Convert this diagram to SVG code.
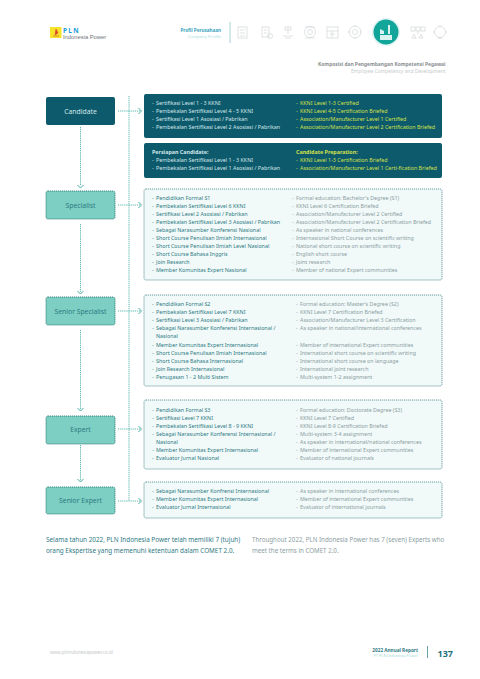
<svg xmlns="http://www.w3.org/2000/svg" width="480" height="679" viewBox="0 0 480 679">
<style>
text{font-family:"Noto Sans","Open Sans","Liberation Sans",sans-serif}
.id{font-size:5.35px;fill:#2f7a83}
.en{font-size:5.35px;fill:#8b9ea2}
.wh{font-size:5.35px;fill:#d3e6e9}
.ye{font-size:5.35px;fill:#d2e04a}
.b{font-weight:700}
.nd{fill:#7ccfc2;stroke:#1f6f6c;stroke-width:.8;stroke-dasharray:1.2 .8}
.dk{fill:#0d5a6c}
.pn{fill:#f1f9f9;stroke:#2f757c;stroke-width:.7;stroke-dasharray:1.2 .8}
.lb{font-size:6.8px;text-anchor:middle}
.cn{fill:none;stroke:#2fa596;stroke-width:.8;stroke-dasharray:1.2 .9}
.ah{fill:none;stroke:#2fa596;stroke-width:.9}
.ic{fill:none;stroke:#d2d6d8;stroke-width:.7}
</style>

<g id="header">
<rect x="50" y="27" width="11.500" height="11" fill="#f6e32a"/>
<path d="M53 36h6M56 29l-1 6 3-2z" fill="#d8452a" stroke="#d8452a" stroke-width=".6"/>
<text x="63" y="32.500" font-size="6.500" font-weight="700" fill="#1b9bd8" letter-spacing="1.300">PLN</text>
<text x="63" y="38.500" font-size="5.800" fill="#6f7478" style="font-family:'Liberation Sans',sans-serif">Indonesia Power</text>
<text x="221" y="32" font-size="4.600" font-weight="700" fill="#3ba5c0" text-anchor="end">Profil Perusahaan</text>
<text x="221" y="38" font-size="4.300" fill="#a9dbe0" text-anchor="end">Company Profile</text>
<rect x="229.500" y="22" width="1" height="21" fill="#a8d2d6"/>
</g>

<g id="nav-icons">
<rect class="ic" x="238" y="27" width="9" height="11"/><path class="ic" d="M240 30h5M240 33h5M240 36h5"/>
<rect class="ic" x="262" y="27" width="7" height="10"/><circle class="ic" cx="270" cy="36" r="2.500"/><path class="ic" d="M264 30h3M264 33h3"/>
<path class="ic" d="M288 27v7M285 27h6v3h-6zM283 36h10M285 38h6"/>
<circle class="ic" cx="310" cy="32" r="5.500"/><circle class="ic" cx="310" cy="32" r="2.500"/><path class="ic" d="M305 27h10M305 38h10"/>
<rect class="ic" x="327" y="27" width="11" height="11"/><path class="ic" d="M327 31h11M332 31v7M330 34h5"/>
<circle class="ic" cx="355" cy="32" r="6"/><circle class="ic" cx="355" cy="32" r="2.500"/><path class="ic" d="M355 25v2M355 37v2M348 32h2M360 32h2"/>
<circle cx="386" cy="32" r="14" fill="#e2f5f3"/><circle cx="386" cy="32" r="12.500" fill="#12a59a"/>
<path d="M380 40h12v-5h-12zM380 34v-5l4 2v3zM388 34v-9h2v9z" fill="#d9f2ef"/>
<rect class="ic" x="411" y="27" width="4" height="4"/><rect class="ic" x="416" y="27" width="4" height="4"/><rect class="ic" x="421" y="27" width="4" height="4"/>
<path class="ic" d="M412 38l2-4 2 4zM419 38l2-4 2 4zM418 31v3"/>
<circle class="ic" cx="440" cy="32" r="5.500"/><path class="ic" d="M440 25v2M440 37v2M433 32h2M445 32h2M438 38h4"/>
</g>

<g id="title">
<text x="445.500" y="65.500" font-size="4.900" font-weight="700" fill="#8a8f92" text-anchor="end">Komposisi dan Pengembangan Kompetensi Pegawai</text>
<text x="445.500" y="72.500" font-size="4.900" fill="#c6cbcd" text-anchor="end">Employee Competency and Development</text>
</g>

<g id="connectors">
<path class="cn" d="M129 96V501"/>
<path class="cn" d="M80.500 127V186M80.500 224V292M80.500 330V410M80.500 445V481"/>
<path class="cn" d="M118 111H140M118 205H140M118 311H140M118 429H140M118 501H140"/>
<g class="ah">
<path d="M138.500 108l3 3-3 3M138.500 202l3 3-3 3M138.500 308l3 3-3 3M138.500 426l3 3-3 3M138.500 498l3 3-3 3"/>
<path d="M77.500 185l3 3 3-3M77.500 291l3 3 3-3M77.500 408l3 3 3-3M77.500 479l3 3 3-3"/>
</g>
</g>

<g id="candidate"><rect class="dk" x="46" y="97" width="69" height="28" rx="2"/><text class="lb" x="80.500" y="113.500" fill="#d3e6e9">Candidate</text></g>
<g id="specialist"><rect class="nd" x="46" y="191" width="69" height="28" rx="2"/><text class="lb" x="80.500" y="207.500" fill="#2f7a83">Specialist</text></g>
<g id="senior-specialist"><rect class="nd" x="46" y="297" width="69" height="28" rx="2"/><text class="lb" x="80.500" y="313.500" fill="#2f7a83">Senior Specialist</text></g>
<g id="expert"><rect class="nd" x="46" y="416" width="69" height="28" rx="2"/><text class="lb" x="80.500" y="432" fill="#2f7a83">Expert</text></g>
<g id="senior-expert"><rect class="nd" x="46" y="487" width="69" height="27" rx="2"/><text class="lb" x="80.500" y="503" fill="#2f7a83">Senior Expert</text></g>

<g id="candidate-panel">
<rect class="dk" x="144" y="94" width="298" height="44" rx="2"/>
<text class="wh" x="152" y="105">-<tspan x="156">Sertifikasi Level 1 - 3 KKNI</tspan></text>
<text class="wh" x="152" y="113">-<tspan x="156">Pembekalan Sertifikasi Level 4 - 5 KKNI</tspan></text>
<text class="wh" x="152" y="121">-<tspan x="156">Sertifikasi Level 1 Asosiasi / Pabrikan</tspan></text>
<text class="wh" x="152" y="129">-<tspan x="156">Pembekalan Sertifikasi Level 2 Asosiasi / Pabrikan</tspan></text>
<text class="ye" x="296" y="105">-<tspan x="300">KKNI Level 1-3 Certified</tspan></text>
<text class="ye" x="296" y="113">-<tspan x="300">KKNI Level 4-5 Certification Briefed</tspan></text>
<text class="ye" x="296" y="121">-<tspan x="300">Association/Manufacturer Level 1 Certified</tspan></text>
<text class="ye" x="296" y="129">-<tspan x="300">Association/Manufacturer Level 2 Certification Briefed</tspan></text>
</g>

<g id="preparation-panel">
<rect class="dk" x="144" y="143" width="298" height="35" rx="2"/>
<text class="wh b" x="152" y="154">Persiapan Candidate:</text>
<text class="wh" x="152" y="162">-<tspan x="156">Pembekalan Sertifikasi Level 1 - 3 KKNI</tspan></text>
<text class="wh" x="152" y="170">-<tspan x="156">Pembekalan Sertifikasi Level 1 Asosiasi / Pabrikan</tspan></text>
<text class="ye b" x="296" y="154">Candidate Preparation:</text>
<text class="ye" x="296" y="162">-<tspan x="300">KKNI Level 1-3 Certification Briefed</tspan></text>
<text class="ye" x="296" y="170">-<tspan x="300">Association/Manufacturer Level 1 Certi-fication Briefed</tspan></text>
</g>

<g id="specialist-panel">
<rect class="pn" x="144" y="189" width="298" height="91" rx="2"/>
<text class="id" x="152" y="200">-<tspan x="156">Pendidikan Formal S1</tspan></text>
<text class="id" x="152" y="208">-<tspan x="156">Pembekalan Sertifikasi Level 6 KKNI</tspan></text>
<text class="id" x="152" y="216">-<tspan x="156">Sertifikasi Level 2 Asosiasi / Pabrikan</tspan></text>
<text class="id" x="152" y="224">-<tspan x="156">Pembekalan Sertifikasi Level 3 Asosiasi / Pabrikan</tspan></text>
<text class="id" x="152" y="232">-<tspan x="156">Sebagai Narasumber Konferensi Nasional</tspan></text>
<text class="id" x="152" y="240">-<tspan x="156">Short Course Penulisan Ilmiah Internasional</tspan></text>
<text class="id" x="152" y="248">-<tspan x="156">Short Course Penulisan Ilmiah Level Nasional</tspan></text>
<text class="id" x="152" y="256">-<tspan x="156">Short Course Bahasa Inggris</tspan></text>
<text class="id" x="152" y="264">-<tspan x="156">Join Research</tspan></text>
<text class="id" x="152" y="272">-<tspan x="156">Member Komunitas Expert Nasional</tspan></text>
<text class="en" x="292" y="200">-<tspan x="296">Formal education: Bachelor's Degree (S1)</tspan></text>
<text class="en" x="292" y="208">-<tspan x="296">KKNI Level 6 Certification Briefed</tspan></text>
<text class="en" x="292" y="216">-<tspan x="296">Association/Manufacturer Level 2 Certified</tspan></text>
<text class="en" x="292" y="224">-<tspan x="296">Association/Manufacturer Level 2 Certification Briefed</tspan></text>
<text class="en" x="292" y="232">-<tspan x="296">As speaker in national conferences</tspan></text>
<text class="en" x="292" y="240">-<tspan x="296">Internasional Short Course on scientific writing</tspan></text>
<text class="en" x="292" y="248">-<tspan x="296">National short course on scientific writing</tspan></text>
<text class="en" x="292" y="256">-<tspan x="296">English short course</tspan></text>
<text class="en" x="292" y="264">-<tspan x="296">Joint research</tspan></text>
<text class="en" x="292" y="272">-<tspan x="296">Member of national Expert communities</tspan></text>
</g>

<g id="senior-specialist-panel">
<rect class="pn" x="144" y="295" width="298" height="91" rx="2"/>
<text class="id" x="152" y="306">-<tspan x="156">Pendidikan Formal S2</tspan></text>
<text class="id" x="152" y="314">-<tspan x="156">Pembekalan Sertifikasi Level 7 KKNI</tspan></text>
<text class="id" x="152" y="322">-<tspan x="156">Sertifikasi Level 3 Asosiasi / Pabrikan</tspan></text>
<text class="id" x="152" y="330">-<tspan x="156">Sebagai Narasumber Konferensi Internasional /</tspan></text>
<text class="id" x="156" y="338">Nasional</text>
<text class="id" x="152" y="347">-<tspan x="156">Member Komunitas Expert Internasional</tspan></text>
<text class="id" x="152" y="355">-<tspan x="156">Short Course Penulisan Ilmiah Internasional</tspan></text>
<text class="id" x="152" y="363">-<tspan x="156">Short Course Bahasa Internasional</tspan></text>
<text class="id" x="152" y="371">-<tspan x="156">Join Research Internasional</tspan></text>
<text class="id" x="152" y="379">-<tspan x="156">Penugasan 1 - 2 Multi Sistem</tspan></text>
<text class="en" x="296" y="306">-<tspan x="300">Formal education: Master's Degree (S2)</tspan></text>
<text class="en" x="296" y="314">-<tspan x="300">KKNI Level 7 Certification Briefed</tspan></text>
<text class="en" x="296" y="322">-<tspan x="300">Association/Manufacturer Level 3 Certification</tspan></text>
<text class="en" x="296" y="330">-<tspan x="300">As speaker in national/international conferences</tspan></text>
<text class="en" x="296" y="347">-<tspan x="300">Member of international Expert communities</tspan></text>
<text class="en" x="296" y="355">-<tspan x="300">International short course on scientific writing</tspan></text>
<text class="en" x="296" y="363">-<tspan x="300">International short course on language</tspan></text>
<text class="en" x="296" y="371">-<tspan x="300">International joint research</tspan></text>
<text class="en" x="296" y="379">-<tspan x="300">Multi-system 1-2 assignment</tspan></text>
</g>

<g id="expert-panel">
<rect class="pn" x="144" y="400" width="298" height="69" rx="2"/>
<text class="id" x="152" y="412">-<tspan x="156">Pendidikan Formal S3</tspan></text>
<text class="id" x="152" y="420">-<tspan x="156">Sertifikasi Level 7 KKNI</tspan></text>
<text class="id" x="152" y="428">-<tspan x="156">Pembekalan Sertifikasi Level 8 - 9 KKNI</tspan></text>
<text class="id" x="152" y="436">-<tspan x="156">Sebagai Narasumber Konferensi Internasional /</tspan></text>
<text class="id" x="156" y="444">Nasional</text>
<text class="id" x="152" y="452">-<tspan x="156">Member Komunitas Expert Internasional</tspan></text>
<text class="id" x="152" y="460">-<tspan x="156">Evaluator Jurnal Nasional</tspan></text>
<text class="en" x="296" y="412">-<tspan x="300">Formal education: Doctorate Degree (S3)</tspan></text>
<text class="en" x="296" y="420">-<tspan x="300">KKNI Level 7 Certified</tspan></text>
<text class="en" x="296" y="428">-<tspan x="300">KKNI Level 8-9 Certification Briefed</tspan></text>
<text class="en" x="296" y="436">-<tspan x="300">Multi-system 3-4 assignment</tspan></text>
<text class="en" x="296" y="444">-<tspan x="300">As speaker in international/national conferences</tspan></text>
<text class="en" x="296" y="452">-<tspan x="300">Member of international Expert communities</tspan></text>
<text class="en" x="296" y="460">-<tspan x="300">Evaluator of national journals</tspan></text>
</g>

<g id="senior-expert-panel">
<rect class="pn" x="144" y="482" width="298" height="36" rx="2"/>
<text class="id" x="152" y="493">-<tspan x="156">Sebagai Narasumber Konfrensi Internasional</tspan></text>
<text class="id" x="152" y="501">-<tspan x="156">Member Komunitas Expert Internasional</tspan></text>
<text class="id" x="152" y="509">-<tspan x="156">Evaluator Jurnal Internasional</tspan></text>
<text class="en" x="296" y="493">-<tspan x="300">As speaker in international conferences</tspan></text>
<text class="en" x="296" y="501">-<tspan x="300">Member of international Expert communities</tspan></text>
<text class="en" x="296" y="509">-<tspan x="300">Evaluator of international journals</tspan></text>
</g>

<g id="summary">
<text x="46" y="542" font-size="6.350" fill="#2f7a83">Selama tahun 2022, PLN Indonesia Power telah memiliki 7 (tujuh)</text>
<text x="46" y="553" font-size="6.350" fill="#2f7a83">orang Ekspertise yang memenuhi ketentuan dalam COMET 2.0.</text>
<text x="252" y="542" font-size="6.200" fill="#8b9ea2">Throughout 2022, PLN Indonesia Power has 7 (seven) Experts who</text>
<text x="252" y="553" font-size="6.200" fill="#8b9ea2">meet the terms in COMET 2.0.</text>
</g>

<g id="footer">
<text x="50" y="653.500" font-size="4.500" fill="#c5c9cb">www.plnindonesiapower.co.id</text>
<text x="418" y="651.500" font-size="4.700" font-weight="700" fill="#2f7a83" text-anchor="end">2022 Annual Report</text>
<text x="418" y="656.500" font-size="3.900" fill="#a5d8dc" text-anchor="end">PT PLN Indonesia Power</text>
<rect x="427" y="646" width=".8" height="12" fill="#3f8d95"/>
<text x="453" y="656.500" font-size="9" font-weight="700" fill="#1f6f7c" text-anchor="end">137</text>
</g>
</svg>
